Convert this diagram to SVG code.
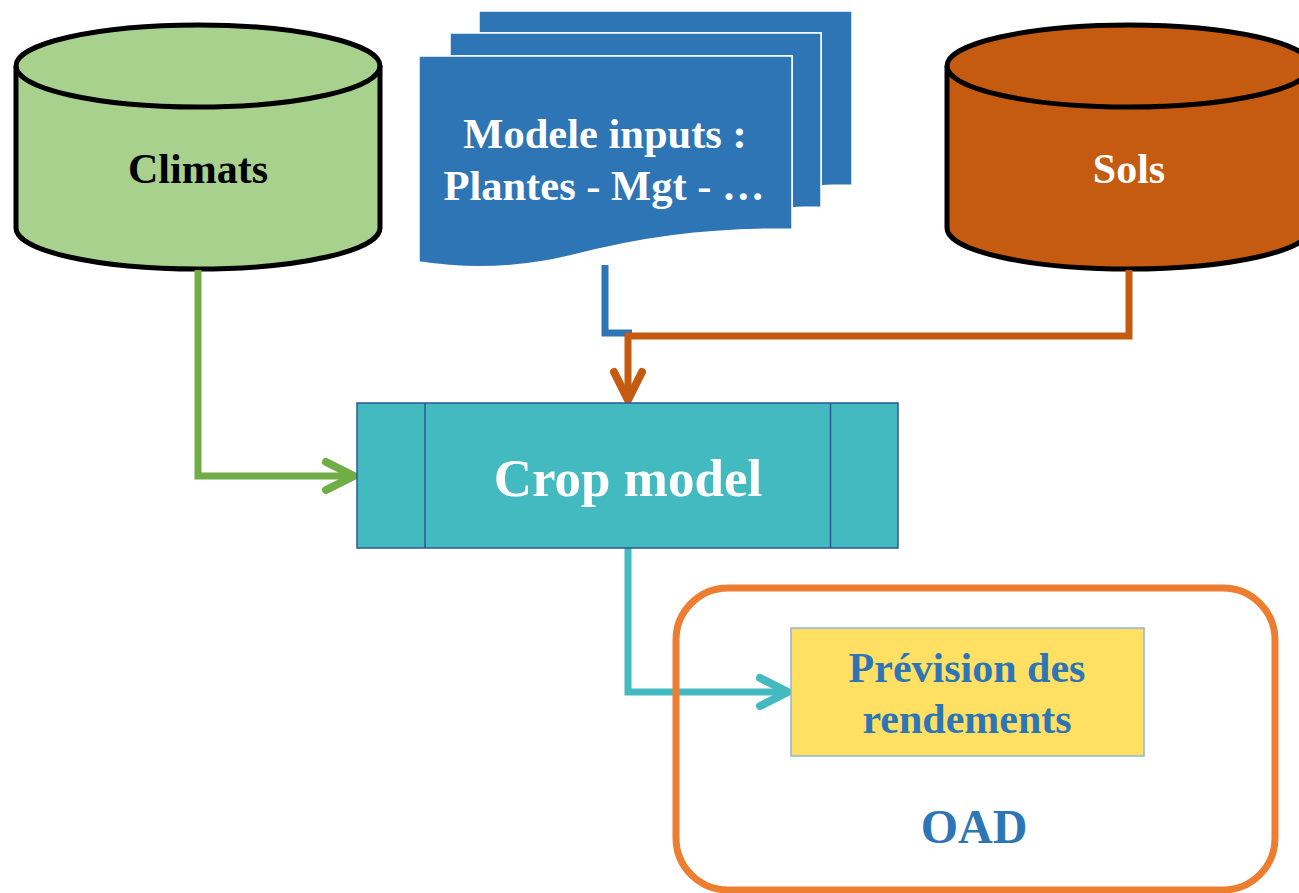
<svg xmlns="http://www.w3.org/2000/svg" width="1299" height="893" viewBox="0 0 1299 893">
  <style>
    .lbl { font-family: "Liberation Serif", "Times New Roman", serif; font-weight: bold; text-anchor: middle; }
    .cyl { stroke: #000000; stroke-width: 5; }
    .page { fill: #2E75B6; stroke: #FFFFFF; stroke-width: 1.5; }
    .wire { fill: none; stroke-width: 7; stroke-linejoin: miter; }
    .head { fill: none; stroke-width: 8; stroke-linecap: round; stroke-linejoin: round; }
  </style>
  <rect width="1299" height="893" fill="#FFFFFF"/>

  <!-- data stores -->
  <g id="climats">
    <path class="cyl" fill="#A9D18E" d="M16,66 A182,41 0 0 1 380,66 V228 A182,41 0 0 1 16,228 Z"/>
    <path class="cyl" fill="none" d="M16,66 A182,41 0 0 0 380,66"/>
    <text class="lbl" x="198" y="183" font-size="42" fill="#000000">Climats</text>
  </g>

  <g id="sols">
    <path class="cyl" fill="#C55A11" d="M947,66 A182,41 0 0 1 1311,66 V228 A182,41 0 0 1 947,228 Z"/>
    <path class="cyl" fill="none" d="M947,66 A182,41 0 0 0 1311,66"/>
    <text class="lbl" x="1129" y="183" font-size="42" fill="#FFFFFF">Sols</text>
  </g>

  <!-- stacked input documents -->
  <g id="inputs">
    <path class="page" d="M479,11 H852 V185 C840,185 830,185 821,186 V33 H479 Z"/>
    <path class="page" d="M450,33 H821 V207 C810,207 800,207 792,208 V56 H450 Z"/>
    <path class="page" d="M419,56 H792 V229 C700,229 640,238 570,256 C520,268 470,270 419,262 Z"/>
    <text class="lbl" x="605" y="148" font-size="42.5" fill="#FFFFFF">Modele inputs :</text>
    <text class="lbl" x="604" y="200" font-size="42.5" fill="#FFFFFF">Plantes - Mgt - …</text>
  </g>

  <!-- connectors -->
  <g id="connectors">
    <path class="wire" stroke="#2E75B6" d="M605,265 V333 H632"/>
    <path class="wire" stroke="#C55A11" d="M1129,270 V336 H628 V398"/>
    <path class="head" stroke="#C55A11" d="M614,372 L628,400 L642,372"/>
    <path class="wire" stroke="#70AD47" d="M198,270 V476 H352"/>
    <path class="head" stroke="#70AD47" d="M326,462 L354,476 L326,490"/>
    <path class="wire" stroke="#42BABF" d="M628,548 V692 H786"/>
    <path class="head" stroke="#42BABF" d="M760,678 L788,692 L760,706"/>
  </g>

  <!-- simulation model -->
  <g id="crop-model">
    <rect x="357" y="403" width="541" height="145" fill="#42BABF" stroke="#2F5597" stroke-width="1.5"/>
    <line x1="425" y1="403" x2="425" y2="548" stroke="#2F5597" stroke-width="1.5"/>
    <line x1="830.5" y1="403" x2="830.5" y2="548" stroke="#2F5597" stroke-width="1.5"/>
    <text class="lbl" x="628" y="496" font-size="53" fill="#FFFFFF">Crop model</text>
  </g>

  <!-- decision tool container -->
  <g id="oad">
    <rect x="676" y="588" width="599" height="302" rx="52" ry="52" fill="none" stroke="#ED7D31" stroke-width="7"/>
    <text class="lbl" x="974" y="843" font-size="48" fill="#2E75B6">OAD</text>
  </g>

  <g id="prevision">
    <rect x="791" y="628" width="353" height="128" fill="#FFE063" stroke="#8FB4D9" stroke-width="1.5"/>
    <text class="lbl" x="967" y="682" font-size="42" fill="#2E75B6">Prévision des</text>
    <text class="lbl" x="967" y="733" font-size="42" fill="#2E75B6">rendements</text>
  </g>
</svg>
